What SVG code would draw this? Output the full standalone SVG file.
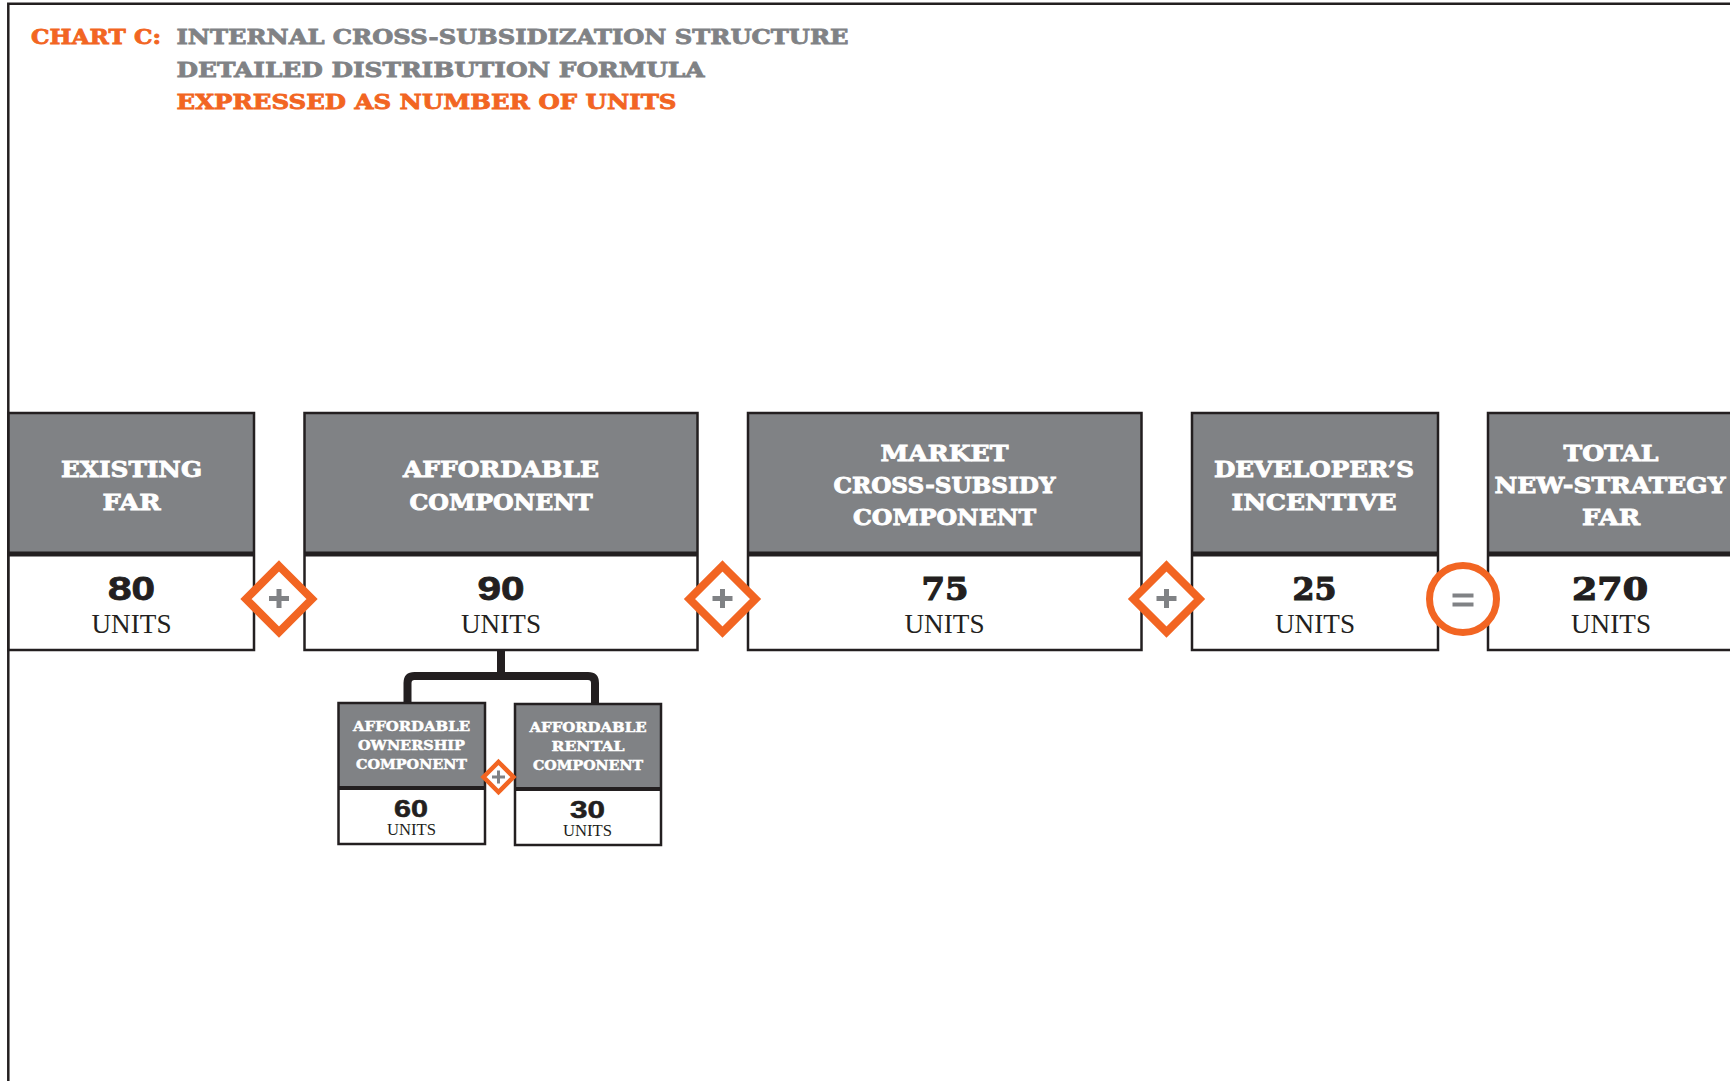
<svg xmlns="http://www.w3.org/2000/svg" width="1730" height="1081" viewBox="0 0 1730 1081">
<style>
.frame{stroke:#231f20;stroke-width:2.5;fill:none}
.hdr{fill:#808285}
.body{fill:#ffffff}
.border{fill:none;stroke:#231f20;stroke-width:2.5}
.div{stroke:#231f20;stroke-width:5}
.divs{stroke:#231f20;stroke-width:4}
.ht{font-family:"DejaVu Serif","Liberation Serif",serif;font-weight:bold;fill:#ffffff;stroke:#ffffff;stroke-width:0.9;font-size:22.5px;text-anchor:middle}
.hts{font-family:"DejaVu Serif","Liberation Serif",serif;font-weight:bold;fill:#ffffff;stroke:#ffffff;stroke-width:0.5;font-size:13.5px;text-anchor:middle}
.num{font-family:"Liberation Sans",Arial,sans-serif;font-weight:bold;fill:#231f20;font-size:33px;text-anchor:middle;stroke:#231f20;stroke-width:0.8}
.nums{font-family:"DejaVu Serif","Liberation Serif",serif;font-weight:bold;fill:#231f20;font-size:32px;text-anchor:middle;stroke:#231f20;stroke-width:1.2}
.nsm{font-family:"Liberation Sans",Arial,sans-serif;font-weight:bold;fill:#231f20;font-size:23px;text-anchor:middle;stroke:#231f20;stroke-width:0.5}
.units{font-family:"Liberation Serif","Times New Roman",serif;fill:#231f20;font-size:27px;text-anchor:middle}
.unitss{font-family:"Liberation Serif","Times New Roman",serif;fill:#231f20;font-size:16.5px;text-anchor:middle}
.title{font-family:"DejaVu Serif","Liberation Serif",serif;font-weight:bold;font-size:20.5px;stroke-width:0.8}
.og{fill:#f26522;stroke:#f26522}
.gy{fill:#808285;stroke:#808285}
.dia{fill:#ffffff;stroke:#f26522;stroke-width:8;stroke-linejoin:miter}
.dias{fill:#ffffff;stroke:#f26522;stroke-width:4.5;stroke-linejoin:miter}
.plus{stroke:#808285;stroke-width:5;fill:none}
.pluss{stroke:#808285;stroke-width:3;fill:none}
.conn{fill:none;stroke:#231f20;stroke-width:8;stroke-linejoin:round}
</style>
<rect x="0" y="0" width="1730" height="1081" fill="#ffffff"/>
<path class="frame" d="M8.3 1081 V3.8 H1730"/>

<g id="title">
<text class="title og" x="31" y="44" textLength="130" lengthAdjust="spacingAndGlyphs">CHART C:</text>
<text class="title gy" x="176.5" y="44" textLength="672" lengthAdjust="spacingAndGlyphs">INTERNAL CROSS-SUBSIDIZATION STRUCTURE</text>
<text class="title gy" x="176.5" y="77" textLength="528" lengthAdjust="spacingAndGlyphs">DETAILED DISTRIBUTION FORMULA</text>
<text class="title og" x="176.5" y="109" textLength="500" lengthAdjust="spacingAndGlyphs">EXPRESSED AS NUMBER OF UNITS</text>
</g>

<g id="connectors">
<path class="conn" d="M501 651 V676"/>
<path class="conn" d="M407.5 704 V683 Q407.5 676 414.5 676 H588 Q595 676 595 683 V705"/>
</g>

<g id="existing-far">
<rect class="hdr" x="8.5" y="413" width="245.5" height="141"/>
<rect class="body" x="8.5" y="554" width="245.5" height="96"/>
<line class="div" x1="8.5" y1="554" x2="254" y2="554"/>
<rect class="border" x="8.5" y="413" width="245.5" height="237"/>
<text class="ht" x="131.5" y="477" textLength="141" lengthAdjust="spacingAndGlyphs">EXISTING</text>
<text class="ht" x="131.5" y="510" textLength="58" lengthAdjust="spacingAndGlyphs">FAR</text>
<text class="num" x="131.5" y="600" textLength="47" lengthAdjust="spacingAndGlyphs">80</text>
<text class="units" x="131.5" y="633" textLength="80" lengthAdjust="spacingAndGlyphs">UNITS</text>
</g>

<g id="affordable">
<rect class="hdr" x="304.5" y="413" width="393" height="141"/>
<rect class="body" x="304.5" y="554" width="393" height="96"/>
<line class="div" x1="304.5" y1="554" x2="697.5" y2="554"/>
<rect class="border" x="304.5" y="413" width="393" height="237"/>
<text class="ht" x="501" y="477" textLength="196" lengthAdjust="spacingAndGlyphs">AFFORDABLE</text>
<text class="ht" x="501" y="510" textLength="183" lengthAdjust="spacingAndGlyphs">COMPONENT</text>
<text class="num" x="501" y="600" textLength="47" lengthAdjust="spacingAndGlyphs">90</text>
<text class="units" x="501" y="633" textLength="80" lengthAdjust="spacingAndGlyphs">UNITS</text>
</g>

<g id="market">
<rect class="hdr" x="748" y="413" width="393.5" height="141"/>
<rect class="body" x="748" y="554" width="393.5" height="96"/>
<line class="div" x1="748" y1="554" x2="1141.5" y2="554"/>
<rect class="border" x="748" y="413" width="393.5" height="237"/>
<text class="ht" x="944.5" y="461" textLength="128" lengthAdjust="spacingAndGlyphs">MARKET</text>
<text class="ht" x="944.5" y="493" textLength="222" lengthAdjust="spacingAndGlyphs">CROSS-SUBSIDY</text>
<text class="ht" x="944.5" y="525" textLength="183" lengthAdjust="spacingAndGlyphs">COMPONENT</text>
<text class="nums" x="945" y="600" textLength="47" lengthAdjust="spacingAndGlyphs">75</text>
<text class="units" x="944.5" y="633" textLength="80" lengthAdjust="spacingAndGlyphs">UNITS</text>
</g>

<g id="developer">
<rect class="hdr" x="1192" y="413" width="246" height="141"/>
<rect class="body" x="1192" y="554" width="246" height="96"/>
<line class="div" x1="1192" y1="554" x2="1438" y2="554"/>
<rect class="border" x="1192" y="413" width="246" height="237"/>
<text class="ht" x="1314" y="477" textLength="200" lengthAdjust="spacingAndGlyphs">DEVELOPER’S</text>
<text class="ht" x="1314" y="510" textLength="165" lengthAdjust="spacingAndGlyphs">INCENTIVE</text>
<text class="nums" x="1314.5" y="600" textLength="44" lengthAdjust="spacingAndGlyphs">25</text>
<text class="units" x="1315" y="633" textLength="80" lengthAdjust="spacingAndGlyphs">UNITS</text>
</g>

<g id="total">
<rect class="hdr" x="1488" y="413" width="246" height="141"/>
<rect class="body" x="1488" y="554" width="246" height="96"/>
<line class="div" x1="1488" y1="554" x2="1734" y2="554"/>
<rect class="border" x="1488" y="413" width="246" height="237"/>
<text class="ht" x="1611" y="461" textLength="95" lengthAdjust="spacingAndGlyphs">TOTAL</text>
<text class="ht" x="1610" y="493" textLength="231" lengthAdjust="spacingAndGlyphs">NEW-STRATEGY</text>
<text class="ht" x="1611" y="525" textLength="58" lengthAdjust="spacingAndGlyphs">FAR</text>
<text class="nums" x="1610" y="600" textLength="76" lengthAdjust="spacingAndGlyphs">270</text>
<text class="units" x="1611" y="633" textLength="80" lengthAdjust="spacingAndGlyphs">UNITS</text>
</g>

<g id="ownership">
<rect class="hdr" x="338.5" y="703" width="146.5" height="85"/>
<rect class="body" x="338.5" y="788" width="146.5" height="56"/>
<line class="divs" x1="338.5" y1="788" x2="485" y2="788"/>
<rect class="border" x="338.5" y="703" width="146.5" height="141"/>
<text class="hts" x="411.5" y="731" textLength="117" lengthAdjust="spacingAndGlyphs">AFFORDABLE</text>
<text class="hts" x="411.5" y="750" textLength="107" lengthAdjust="spacingAndGlyphs">OWNERSHIP</text>
<text class="hts" x="411.5" y="769" textLength="111" lengthAdjust="spacingAndGlyphs">COMPONENT</text>
<text class="nsm" x="411" y="817" textLength="34" lengthAdjust="spacingAndGlyphs">60</text>
<text class="unitss" x="411.5" y="835" textLength="49" lengthAdjust="spacingAndGlyphs">UNITS</text>
</g>

<g id="rental">
<rect class="hdr" x="515" y="704" width="146" height="85"/>
<rect class="body" x="515" y="789" width="146" height="56"/>
<line class="divs" x1="515" y1="789" x2="661" y2="789"/>
<rect class="border" x="515" y="704" width="146" height="141"/>
<text class="hts" x="588" y="732" textLength="117" lengthAdjust="spacingAndGlyphs">AFFORDABLE</text>
<text class="hts" x="588" y="751" textLength="73" lengthAdjust="spacingAndGlyphs">RENTAL</text>
<text class="hts" x="588" y="770" textLength="110" lengthAdjust="spacingAndGlyphs">COMPONENT</text>
<text class="nsm" x="587.5" y="817.5" textLength="35" lengthAdjust="spacingAndGlyphs">30</text>
<text class="unitss" x="587.5" y="836" textLength="49" lengthAdjust="spacingAndGlyphs">UNITS</text>
</g>

<g id="op-plus-1">
<path class="dia" d="M279 566 L312 599 L279 632 L246 599 Z"/>
<path class="plus" d="M269 598.5 H289 M279 589 V608"/>
</g>
<g id="op-plus-2">
<path class="dia" d="M722.5 566 L755.5 599 L722.5 632 L689.5 599 Z"/>
<path class="plus" d="M712.5 598.5 H732.5 M722.5 589 V608"/>
</g>
<g id="op-plus-3">
<path class="dia" d="M1166.5 566 L1199.5 599 L1166.5 632 L1133.5 599 Z"/>
<path class="plus" d="M1156.5 598.5 H1176.5 M1166.5 589 V608"/>
</g>
<g id="op-equals">
<circle cx="1463" cy="599" r="33.5" fill="#ffffff" stroke="#f26522" stroke-width="7"/>
<rect x="1452.5" y="593.5" width="21" height="4" fill="#808285"/>
<rect x="1452.5" y="602.5" width="21" height="4" fill="#808285"/>
</g>
<g id="op-plus-small">
<path class="dias" d="M498.5 762 L513.5 777 L498.5 792 L483.5 777 Z"/>
<path class="pluss" d="M492 777 H505 M498.5 770.5 V783.5"/>
</g>
</svg>
